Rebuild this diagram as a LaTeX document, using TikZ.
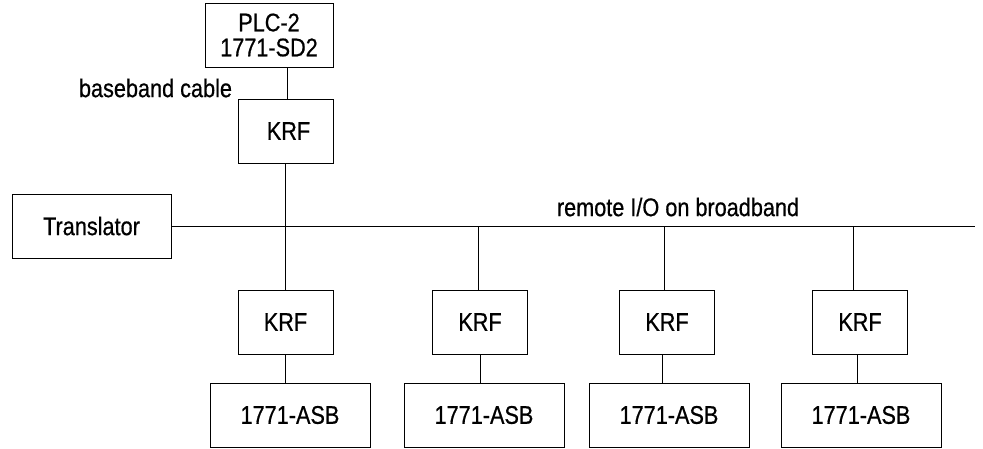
\documentclass[tikz,border=0pt]{standalone}
\usepackage{fontspec}
\setmainfont{Liberation Sans}[FakeStretch=0.85,FakeBold=0.6]
\begin{document}
\begin{tikzpicture}[x=1pt,y=-1pt,line width=0.9pt,
  box/.style={draw,inner sep=0pt,minimum height=64pt,align=center,font=\fontsize{25.5}{25}\selectfont},
  krfbox/.style={box,minimum width=95pt},
  asbbox/.style={box,minimum width=160pt},
  lbl/.style={inner sep=0pt,font=\fontsize{25.5}{25}\selectfont}]
\useasboundingbox (0,0) rectangle (983,448);
\node[box,minimum width=128pt] (plc) at (269,35) {PLC-2\\1771-SD2};
\node[krfbox] (krf0) at (285.5,131) {\hspace*{6pt}KRF};
\node[box,minimum width=159pt] (trans) at (91.5,226) {Translator};
\node[krfbox] (krf1) at (285.5,322) {KRF};
\node[krfbox] (krf2) at (480,322) {KRF};
\node[krfbox] (krf3) at (667,322) {KRF};
\node[krfbox] (krf4) at (860,322) {KRF};
\node[asbbox] (asb1) at (290,415) {1771-ASB};
\node[asbbox] (asb2) at (484,415) {1771-ASB};
\node[asbbox] (asb3) at (669,415) {1771-ASB};
\node[asbbox] (asb4) at (861,415) {\raisebox{-3pt}{1771-ASB}};
\node[lbl] (bb) at (155.5,88) {baseband cable};
\node[lbl] (rio) at (678,207) {remote I/O on broadband};
\coordinate (busend) at (975,226);
\coordinate (tap1) at (286,226);
\coordinate (tap2) at (478,226);
\coordinate (tap3) at (664,226);
\coordinate (tap4) at (853,226);
\draw (trans.east) -- (busend);
\draw ([xshift=1.5pt]plc.south -| krf0.north) -- ([xshift=1.5pt]krf0.north);
\draw (krf0.south) -- (krf1.north);
\draw (tap2) -- (tap2 |- krf2.north);
\draw (tap3) -- (tap3 |- krf3.north);
\draw (tap4) -- (tap4 |- krf4.north);
\draw (krf1.south) -- (krf1.south |- asb1.north);
\draw (krf2.south) -- (krf2.south |- asb2.north);
\draw ([xshift=-5pt]krf3.south) -- ([xshift=-5pt]krf3.south |- asb3.north);
\draw ([xshift=-3pt]krf4.south) -- ([xshift=-3pt]krf4.south |- asb4.north);
\end{tikzpicture}
\end{document}
